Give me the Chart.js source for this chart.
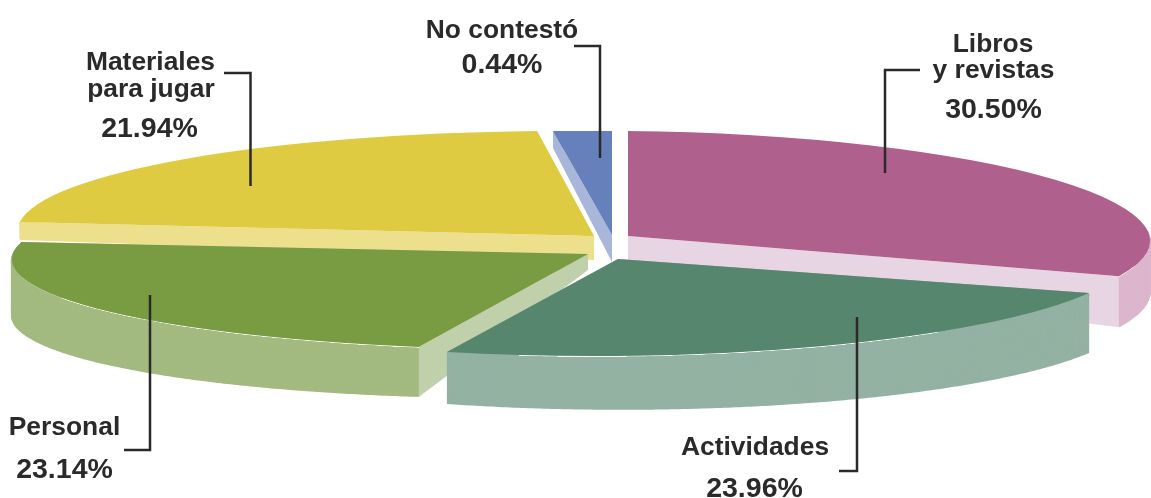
<!DOCTYPE html>
<html lang="es">
<head>
<meta charset="utf-8">
<style>html,body{margin:0;padding:0;background:#fff}canvas{display:block}</style>
<script src="https://cdn.jsdelivr.net/npm/chart.js@4"></script>
</head>
<body>
<canvas id="c" width="1151" height="498"></canvas>
<script>
// ---- data ----
const categories = ["Libros y revistas", "Actividades", "Personal", "Materiales para jugar", "No contestó"];
const percentages = [30.50, 23.96, 23.14, 21.94, 0.44];

// ---- styles ----
const topColors  = ["#b0608c", "#57866f", "#799c43", "#dfcb42", "#6680bb"];
const rimColors  = ["#dcb6cd", "#93b2a3", "#a3ba80", "#ece08c", "#a8b6da"];
const cutColors  = ["#e8d5e4", "#93b2a3", "#bfd0ab", "#ece08c", "#a8b6da"];
// per-slice oblique projection of the library's arc (exploded 3D look): origin + 2x2 matrix
const projections = [
  {x: 628, y: 236, a: 522,   b: 0,     c: 5,    d: 105},
  {x: 618, y: 259, a: 511.6, b: -30.4, c: 1.1,  d: 97.1},
  {x: 588, y: 254, a: 576,   b: -10,   c: -3.7, d: 95.7},
  {x: 594, y: 236, a: 575,   b: 41.1,  c: -3.2, d: 105.1},
  {x: 612, y: 235, a: 2134,  b: 0,     c: 1.5,  d: 104}
];
// wall heights: at the centre, at the first rim end, at the last rim end
const walls = [[30, 51, 51], [30, 60, 52], [16, 50, 58], [24, 18, 18], [27, 17, 17]];
const wallOrder = [0, 4, 3, 2, 1];

const labelFont = 26.4, percentFont = 28.5;
const textItems = [
  ["No contestó", 502, 38, "center", labelFont], ["0.44%", 502, 73, "center", percentFont],
  ["Materiales", 150.5, 70, "center", labelFont], ["para jugar", 151, 97, "center", labelFont], ["21.94%", 149.5, 137, "center", percentFont],
  ["Libros", 993, 52, "center", labelFont], ["y revistas", 993.5, 78, "center", labelFont], ["30.50%", 993.5, 118, "center", percentFont],
  ["Personal", 64.5, 435, "center", labelFont], ["23.14%", 64.5, 478, "center", percentFont],
  ["Actividades", 755, 455, "center", labelFont], ["23.96%", 754.5, 497, "center", percentFont]
];
const leaders = [
  [[574, 46], [600, 46], [600, 158]],
  [[224, 73], [250.5, 73], [250.5, 186]],
  [[920, 70], [885, 70], [885, 173]],
  [[150, 295], [150, 450], [124, 450]],
  [[857, 317], [857, 471], [839, 471]]
];

function rimPoint(p, ang) {
  const ux = Math.cos(ang), uy = Math.sin(ang);
  return [p.x + p.a * ux + p.b * uy, p.y + p.c * ux + p.d * uy];
}

const pie3d = {
  id: "pie3d",
  beforeDatasetsDraw(chart) {
    const ctx = chart.ctx, arcs = chart.getDatasetMeta(0).data;
    // walls, back to front
    wallOrder.forEach(i => {
      const p = projections[i], w = walls[i];
      const {startAngle: s, endAngle: e} = arcs[i].getProps(["startAngle", "endAngle"], true);
      const ps = rimPoint(p, s), pe = rimPoint(p, e);
      ctx.fillStyle = cutColors[i];
      ctx.beginPath();
      ctx.moveTo(p.x, p.y); ctx.lineTo(ps[0], ps[1]); ctx.lineTo(ps[0], ps[1] + w[1]); ctx.lineTo(p.x, p.y + w[0]);
      ctx.closePath(); ctx.fill();
      ctx.beginPath();
      ctx.moveTo(p.x, p.y); ctx.lineTo(pe[0], pe[1]); ctx.lineTo(pe[0], pe[1] + w[2]); ctx.lineTo(p.x, p.y + w[0]);
      ctx.closePath(); ctx.fill();
      // outer wall: the rim swept downward in thin overlapping strokes, so the fold at the extreme stays solid
      const N = 200, layers = Math.ceil(Math.max(w[1], w[2]));
      ctx.strokeStyle = rimColors[i];
      ctx.lineWidth = 2;
      ctx.lineCap = "butt";
      ctx.lineJoin = "round";
      for (let j = 0; j <= layers; j++) {
        const f = j / layers;
        ctx.beginPath();
        for (let k = 0; k <= N; k++) {
          const t = k / N, q = rimPoint(p, s + (e - s) * t);
          const d = Math.max(2, (w[1] + (w[2] - w[1]) * t) * f - 1);
          k ? ctx.lineTo(q[0], q[1] + d) : ctx.moveTo(q[0], q[1] + d);
        }
        ctx.stroke();
      }
    });
    // top faces: the library's own arc elements under each projection
    wallOrder.forEach(i => {
      const p = projections[i], arc = arcs[i];
      const {x, y, outerRadius: R} = arc.getProps(["x", "y", "outerRadius"], true);
      ctx.save();
      ctx.translate(p.x, p.y);
      ctx.transform(p.a / R, p.c / R, p.b / R, p.d / R, 0, 0);
      ctx.translate(-x, -y);
      arc.draw(ctx);
      ctx.restore();
    });
    return false;
  },
  afterDraw(chart) {
    const ctx = chart.ctx;
    ctx.save();
    ctx.strokeStyle = "#2b2a2b";
    ctx.lineWidth = 2.5;
    ctx.lineJoin = "miter";
    leaders.forEach(l => {
      ctx.beginPath();
      l.forEach((q, k) => k ? ctx.lineTo(q[0], q[1]) : ctx.moveTo(q[0], q[1]));
      ctx.stroke();
    });
    ctx.fillStyle = "#2b2a2b";
    ctx.textBaseline = "alphabetic";
    textItems.forEach(t => {
      ctx.font = 'bold ' + t[4] + 'px "Liberation Sans", Arial, sans-serif';
      ctx.textAlign = t[3];
      ctx.fillText(t[0], t[1], t[2]);
    });
    ctx.restore();
  }
};

new Chart(document.getElementById("c"), {
  type: "pie",
  data: {
    labels: categories,
    datasets: [{data: percentages, backgroundColor: topColors, borderWidth: 0, hoverOffset: 0}]
  },
  options: {
    responsive: false,
    animation: false,
    events: [],
    plugins: {legend: {display: false}, tooltip: {enabled: false}, title: {display: false}}
  },
  plugins: [pie3d]
});
</script>
</body>
</html>
